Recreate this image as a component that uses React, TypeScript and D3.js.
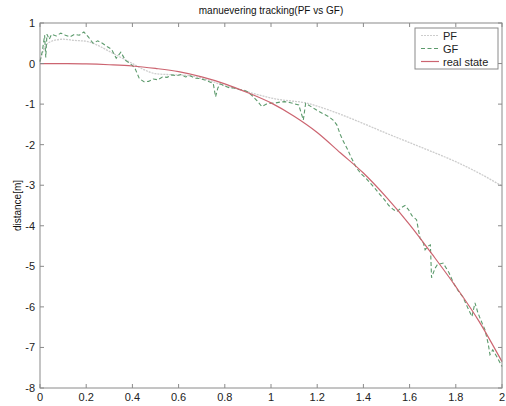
import { useEffect, useRef } from "react";
import * as d3 from "d3";

// real state (red), sampled every 0.1
const realX = [0, 0.1, 0.2, 0.3, 0.4, 0.5, 0.6, 0.7, 0.8, 0.9, 1.0, 1.1, 1.2, 1.3, 1.4, 1.5, 1.6, 1.7, 1.8, 1.9, 2.0];
const realY = [0, -0.003, -0.01, -0.03, -0.06, -0.12, -0.2, -0.33, -0.5, -0.72, -0.97, -1.3, -1.7, -2.2, -2.7, -3.3, -3.97, -4.72, -5.5, -6.35, -7.35];

// PF estimate (light dotted)
const pfX = [0, 0.02, 0.05, 0.1, 0.15, 0.2, 0.25, 0.3, 0.35, 0.4, 0.45, 0.5, 0.55, 0.6, 0.65, 0.7, 0.75, 0.8, 0.85, 0.9, 0.95, 1.0, 1.05, 1.1, 1.15, 1.2, 1.3, 1.4, 1.5, 1.6, 1.7, 1.8, 1.9, 2.0];
const pfY = [0.05, 0.4, 0.55, 0.6, 0.57, 0.55, 0.45, 0.3, 0.15, 0.0, -0.15, -0.25, -0.27, -0.28, -0.3, -0.36, -0.45, -0.55, -0.62, -0.7, -0.78, -0.85, -0.9, -0.93, -0.97, -1.05, -1.25, -1.48, -1.72, -1.95, -2.18, -2.42, -2.7, -3.02];

// GF estimate (green dashed)
const gfX = [0, 0.01, 0.02, 0.025, 0.03, 0.04, 0.05, 0.07, 0.09, 0.11, 0.13, 0.15, 0.17, 0.19, 0.21, 0.23, 0.25, 0.27, 0.29, 0.31, 0.33, 0.35, 0.37, 0.39, 0.41, 0.43, 0.45, 0.47, 0.49, 0.51, 0.53, 0.55, 0.57, 0.59, 0.61, 0.63, 0.65, 0.67, 0.69, 0.71, 0.73, 0.75, 0.76, 0.77, 0.78, 0.8, 0.82, 0.84, 0.86, 0.88, 0.9, 0.92, 0.94, 0.96, 0.98, 1.0, 1.02, 1.04, 1.06, 1.08, 1.1, 1.12, 1.14, 1.15, 1.17, 1.19, 1.21, 1.23, 1.25, 1.27, 1.285, 1.3, 1.31, 1.33, 1.35, 1.37, 1.39, 1.41, 1.43, 1.45, 1.47, 1.49, 1.51, 1.53, 1.545, 1.565, 1.58, 1.595, 1.61, 1.63, 1.645, 1.66, 1.667, 1.68, 1.69, 1.695, 1.71, 1.72, 1.745, 1.77, 1.79, 1.81, 1.83, 1.85, 1.87, 1.883, 1.896, 1.91, 1.926, 1.94, 1.948, 1.96, 1.98, 2.0];
const gfY = [0.05, 0.3, 0.7, 0.15, 0.72, 0.6, 0.72, 0.68, 0.75, 0.7, 0.66, 0.72, 0.7, 0.78, 0.65, 0.5, 0.56, 0.5, 0.42, 0.35, 0.13, 0.28, 0.08, 0.0, -0.1, -0.37, -0.45, -0.44, -0.38, -0.4, -0.33, -0.34, -0.28, -0.3, -0.27, -0.33, -0.3, -0.36, -0.37, -0.4, -0.44, -0.49, -0.82, -0.6, -0.5, -0.55, -0.6, -0.6, -0.64, -0.65, -0.7, -0.8, -0.92, -1.06, -1.0, -0.98, -0.97, -0.95, -0.94, -0.96, -0.99, -1.02, -1.39, -0.98, -1.05, -1.12, -1.19, -1.25, -1.31, -1.4, -1.51, -1.75, -1.88, -2.1, -2.35, -2.57, -2.72, -2.82, -2.95, -3.08, -3.22, -3.35, -3.5, -3.6, -3.65, -3.55, -3.5, -3.6, -3.75, -3.85, -4.3, -4.43, -4.59, -4.5, -4.47, -5.28, -5.05, -4.96, -4.92, -5.15, -5.41, -5.6, -5.75, -6.0, -6.24, -5.9, -6.15, -6.35, -6.56, -6.9, -7.18, -7.06, -7.25, -7.47];

const xTicks = [0, 0.2, 0.4, 0.6, 0.8, 1, 1.2, 1.4, 1.6, 1.8, 2];
const yTicks = [1, 0, -1, -2, -3, -4, -5, -6, -7, -8];
const legendLabels = ["PF", "GF", "real state"];

function App() {
  const ref = useRef<SVGSVGElement>(null);

  useEffect(() => {
    const width = 506;
    const height = 406;
    const margin = { top: 23, right: 4, bottom: 18, left: 40 };
    const axisColor = "#8a8a8a";
    const font = "'Liberation Sans', Arial, sans-serif";

    const pfColor = "#cdcdcd";
    const gfColor = "#5c9a6c";
    const realColor = "#cc6470";

    const svg = d3.select(ref.current);
    svg.selectAll("*").remove();

    const x = d3.scaleLinear([0, 2], [margin.left, width - margin.right]);
    const y = d3.scaleLinear([-8, 1], [height - margin.bottom, margin.top]);

    svg.append("rect").attr("width", width).attr("height", height).attr("fill", "#fff");

    // title
    svg
      .append("text")
      .attr("x", (x(0) + x(2)) / 2)
      .attr("y", 14)
      .attr("text-anchor", "middle")
      .attr("font-family", font)
      .attr("font-size", 10)
      .attr("fill", "#111")
      .text("manuevering tracking(PF vs GF)");

    // y label
    svg
      .append("text")
      .attr("transform", `translate(21,${(y(1) + y(-8)) / 2}) rotate(-90)`)
      .attr("text-anchor", "middle")
      .attr("font-family", font)
      .attr("font-size", 10)
      .attr("fill", "#111")
      .text("distance[m]");

    const plot = svg.append("g");

    const line = d3
      .line<[number, number]>()
      .x((d) => x(d[0]))
      .y((d) => y(d[1]));

    const pfData = pfX.map((v, i) => [v, pfY[i]] as [number, number]);
    const gfData = gfX.map((v, i) => [v, gfY[i]] as [number, number]);
    const realData = realX.map((v, i) => [v, realY[i]] as [number, number]);

    plot
      .append("path")
      .attr("d", line.curve(d3.curveMonotoneX)(pfData))
      .attr("fill", "none")
      .attr("stroke", pfColor)
      .attr("stroke-width", 1.3)
      .attr("stroke-dasharray", "2,1");

    plot
      .append("path")
      .attr("d", line.curve(d3.curveLinear)(gfData))
      .attr("fill", "none")
      .attr("stroke", gfColor)
      .attr("stroke-width", 1.1)
      .attr("stroke-dasharray", "4,2.5");

    plot
      .append("path")
      .attr("d", line.curve(d3.curveMonotoneX)(realData))
      .attr("fill", "none")
      .attr("stroke", realColor)
      .attr("stroke-width", 1.2);

    // cadre
    svg
      .append("rect")
      .attr("x", x(0))
      .attr("y", y(1))
      .attr("width", x(2) - x(0))
      .attr("height", y(-8) - y(1))
      .attr("fill", "none")
      .attr("stroke", axisColor)
      .attr("stroke-width", 1);

    const tickLen = 4;
    xTicks.forEach((t) => {
      svg.append("line").attr("x1", x(t)).attr("x2", x(t)).attr("y1", y(-8)).attr("y2", y(-8) - tickLen).attr("stroke", axisColor);
      svg.append("line").attr("x1", x(t)).attr("x2", x(t)).attr("y1", y(1)).attr("y2", y(1) + tickLen).attr("stroke", axisColor);
      svg
        .append("text")
        .attr("x", x(t))
        .attr("y", y(-8) + 13)
        .attr("text-anchor", "middle")
        .attr("font-family", font)
        .attr("font-size", 11)
        .attr("fill", "#222")
        .text(String(t));
    });

    yTicks.forEach((t) => {
      svg.append("line").attr("x1", x(0)).attr("x2", x(0) + tickLen).attr("y1", y(t)).attr("y2", y(t)).attr("stroke", axisColor);
      svg.append("line").attr("x1", x(2)).attr("x2", x(2) - tickLen).attr("y1", y(t)).attr("y2", y(t)).attr("stroke", axisColor);
      svg
        .append("text")
        .attr("x", x(0) - 5)
        .attr("y", y(t) + 4)
        .attr("text-anchor", "end")
        .attr("font-family", font)
        .attr("font-size", 11)
        .attr("fill", "#222")
        .text(String(t));
    });

    // légende
    const legend = svg.append("g").attr("transform", "translate(415,28)");
    legend
      .append("rect")
      .attr("width", 83)
      .attr("height", 41)
      .attr("fill", "#fff")
      .attr("stroke", axisColor);

    const legendStyles = [
      { stroke: pfColor, dash: "2,1" },
      { stroke: gfColor, dash: "4,2.5" },
      { stroke: realColor, dash: "none" },
    ];

    legendLabels.forEach((label, i) => {
      const ly = 7.5 + i * 13;
      legend
        .append("line")
        .attr("x1", 6)
        .attr("x2", 24)
        .attr("y1", ly)
        .attr("y2", ly)
        .attr("stroke", legendStyles[i].stroke)
        .attr("stroke-width", 1.2)
        .attr("stroke-dasharray", legendStyles[i].dash);
      legend
        .append("text")
        .attr("x", 28)
        .attr("y", ly + 4)
        .attr("font-family", font)
        .attr("font-size", 11)
        .attr("fill", "#222")
        .text(label);
    });
  }, []);

  return (
    <div style={{ position: "fixed", left: 0, top: 0 }}>
      <svg ref={ref} width={506} height={406} style={{ display: "block" }}></svg>
    </div>
  );
}

export default App;
